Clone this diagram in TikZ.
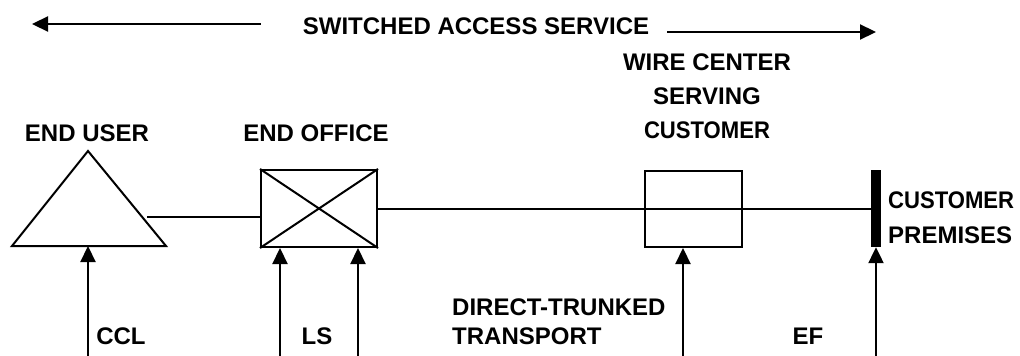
\documentclass[tikz,border=0pt]{standalone}
\usepackage{fontspec}
\setmainfont{Liberation Sans}
\newfontfamily\narrowsans{Liberation Sans}[FakeStretch=0.92]
\usetikzlibrary{arrows.meta,calc}
\newcommand{\custword}{{\narrowsans\bfseries CUSTOMER}}

\begin{document}
\begin{tikzpicture}[x=1pt,y=-1pt,>={Triangle[length=16pt,width=15pt]},
  lbl/.style={inner sep=0pt,font=\bfseries\fontsize{24}{34}\selectfont},
  box/.style={draw,line width=2pt,inner sep=0pt},
  link/.style={line width=2pt},
  feed/.style={->,line width=2.2pt}]
  \useasboundingbox (0,0) rectangle (1020,356);

  % --- heading with span arrows ---
  \node[lbl] (title) at (476,26) {SWITCHED ACCESS SERVICE};
  \coordinate (span-l) at (32,24);
  \coordinate (span-r) at (876,32);
  \draw[feed] ([xshift=-42pt,yshift=2pt]title.west) -- (span-l);
  \draw[feed] ([xshift=18pt,yshift=-6pt]title.east) -- (span-r);

  % --- end user (triangle) ---
  \coordinate (eu-top) at (88,151);
  \coordinate (eu-bl) at (12,246);
  \coordinate (eu-br) at (166,246);
  \draw[link] (eu-top) -- (eu-br) -- (eu-bl) -- cycle;
  \node[lbl] (eu-lbl) at (87,133) {END USER};

  % --- end office (crossed box) ---
  \node[box,minimum width=116pt,minimum height=77pt] (eo) at (319,208.5) {};
  \draw[link] (eo.north west) -- (eo.south east) (eo.south west) -- (eo.north east);
  \node[lbl] (eo-lbl) at (316,133) {END OFFICE};

  % --- wire center serving customer ---
  \node[box,minimum width=97pt,minimum height=76pt] (wc) at (693.5,209) {};
  \node[lbl,align=center] (wc-lbl) at (707,96) {WIRE CENTER\\SERVING\\\custword};

  % --- customer premises (bar) ---
  \node[fill,inner sep=0pt,minimum width=10pt,minimum height=77pt] (cp) at (876,208.5) {};
  \node[lbl,align=left,anchor=west,font=\bfseries\fontsize{24}{35}\selectfont]
    (cp-lbl) at (888,217.5) {\custword\\PREMISES};

  % --- transmission path ---
  \coordinate (eu-r) at (147,217);
  \draw[link] (eu-r) -- (eu-r -| eo.west);
  \draw[link] (eo.east) -- (cp.west);

  % --- rate element arrows from below ---
  \foreach \x/\tgt [count=\i] in {88/eu-bl,280/eo.south,358/eo.south,683/wc.south,876/cp.south}{
    \coordinate (in-\i) at (\x,356);
    \draw[feed] (in-\i) -- (in-\i |- \tgt);
  }

  % --- rate element labels ---
  \node[lbl] (ccl) at (121,336) {CCL};
  \node[lbl] (ls) at (317,336) {LS};
  \node[lbl,align=left,anchor=west,font=\bfseries\fontsize{24}{29}\selectfont]
    (dtt) at (452,321.5) {DIRECT-TRUNKED\\TRANSPORT};
  \node[lbl] (ef) at (808,336) {EF};
\end{tikzpicture}
\end{document}
